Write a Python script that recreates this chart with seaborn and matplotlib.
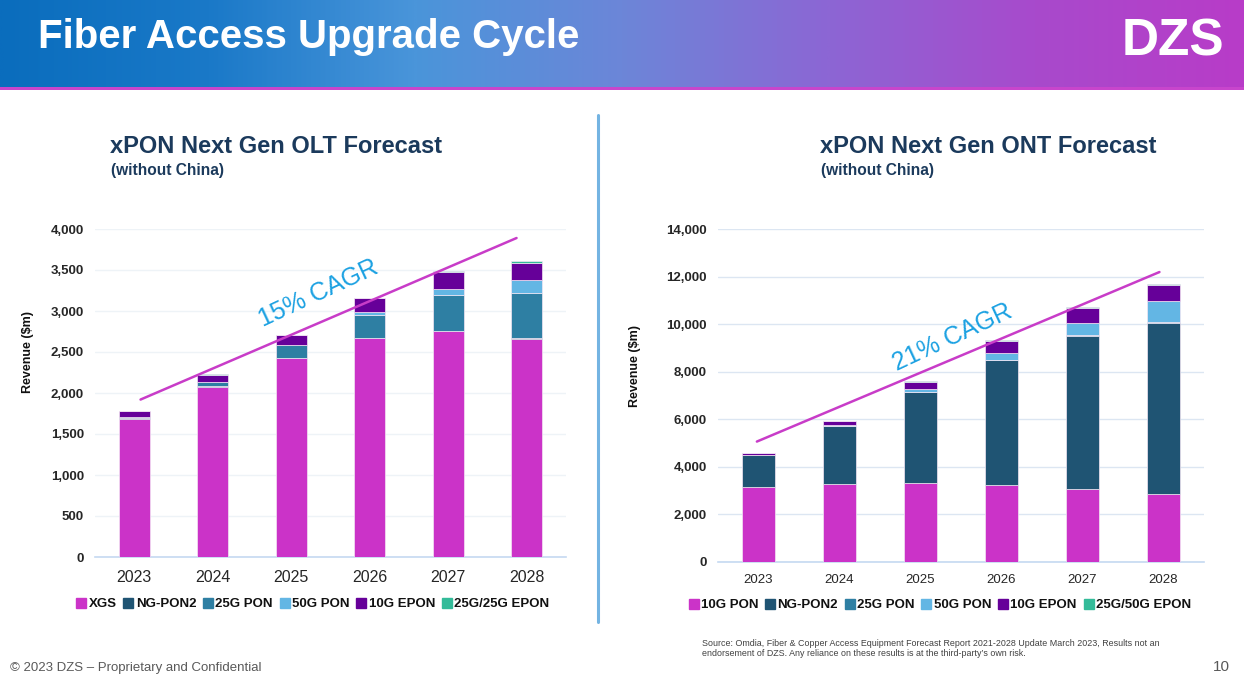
import numpy as np
import matplotlib
matplotlib.use("Agg")
import matplotlib.pyplot as plt
from matplotlib.lines import Line2D
from matplotlib.colors import LinearSegmentedColormap
import seaborn as sns

# ---------------- data ----------------
years = ["2023", "2024", "2025", "2026", "2027", "2028"]

olt_series = ["XGS", "NG-PON2", "25G PON", "50G PON", "10G EPON", "25G/25G EPON"]
olt_xgs = [1685, 2075, 2425, 2670, 2755, 2660]
olt_ngpon2 = [5, 5, 5, 5, 5, 5]
olt_25g = [15, 60, 150, 275, 435, 560]
olt_50g = [0, 0, 5, 33, 75, 150]
olt_10gepon = [70, 85, 120, 175, 210, 215]
olt_25gepon = [2, 3, 3, 5, 10, 15]
olt_values = [olt_xgs, olt_ngpon2, olt_25g, olt_50g, olt_10gepon, olt_25gepon]

ont_series = ["10G PON", "NG-PON2", "25G PON", "50G PON", "10G EPON", "25G/50G EPON"]
ont_10gpon = [3150, 3270, 3315, 3215, 3050, 2835]
ont_ngpon2 = [1330, 2450, 3840, 5290, 6470, 7230]
ont_25g = [10, 10, 10, 10, 10, 10]
ont_50g = [15, 20, 100, 280, 530, 885]
ont_10gepon = [60, 170, 320, 520, 645, 700]
ont_25gepon = [3, 5, 5, 8, 10, 25]
ont_values = [ont_10gpon, ont_ngpon2, ont_25g, ont_50g, ont_10gepon, ont_25gepon]

# CAGR trend lines (x in category index units, y in $m)
olt_cagr_x = [0.08, 4.87]
olt_cagr_y = [1920, 3890]
ont_cagr_x = [-0.02, 4.95]
ont_cagr_y = [5060, 12200]
olt_cagr_label = "15% CAGR"
ont_cagr_label = "21% CAGR"

olt_yticks = list(range(0, 4001, 500))
ont_yticks = list(range(0, 14001, 2000))

# ---------------- style ----------------
colors = ["#CB33C8", "#1F5473", "#2E7FA3", "#63B6E4", "#660099", "#33BB99"]
navy = "#1B3A5C"
W, H = 1244, 683

sns.set_theme(style="white")
plt.rcParams["font.family"] = ["Liberation Sans", "DejaVu Sans"]

fig = plt.figure(figsize=(W / 100, H / 100), dpi=100)
fig.patch.set_facecolor("white")


def fx(px):
    return px / W


def fy(py):
    return 1 - py / H


# header gradient
hax = fig.add_axes([0, fy(87), 1, 87 / H])
cmap = LinearSegmentedColormap.from_list(
    "hdr", ["#0A6DBD", "#1A79C8", "#4A95DA", "#6C86D8", "#8C66D4", "#A84ACC", "#B83CC8"])
grad = np.linspace(0, 1, 512).reshape(1, -1)
hax.imshow(grad, aspect="auto", cmap=cmap, extent=[0, 1, 0, 1])
hax.set_axis_off()
sax = fig.add_axes([0, fy(90), 1, 3 / H])
sax.set_facecolor("#C845CC")
sax.set_xticks([]); sax.set_yticks([])
for s in sax.spines.values():
    s.set_visible(False)

fig.text(fx(38), fy(48), "Fiber Access Upgrade Cycle", color="white",
         fontsize=29, fontweight="bold", va="baseline", ha="left")
fig.text(fx(1173), fy(55), "DZS", color="white", fontsize=37, fontweight="bold",
         va="baseline", ha="center")

# separator
fig.add_artist(Line2D([fx(598), fx(598)], [fy(115), fy(622)], color="#74B4E2",
                      linewidth=2.2, transform=fig.transFigure))


def draw_chart(rect, values, series, yticks, ymax, cagr_x, cagr_y, cagr_label,
               label_xy, grid_color, xtick_size, ylabel_xy):
    ax = fig.add_axes(rect)
    bottom = np.zeros(len(years))
    for vals, col in zip(values, colors):
        sns.barplot(x=years, y=vals, bottom=bottom, color=col, width=0.4,
                    saturation=1, errorbar=None, ax=ax, edgecolor="#F3E6F3",
                    linewidth=0.5, zorder=3)
        bottom = bottom + np.array(vals, dtype=float)
    ax.plot(cagr_x, cagr_y, color="#C83CC8", linewidth=1.8, zorder=5)
    ax.text(label_xy[0], label_xy[1], cagr_label, color="#1BA1E2", fontsize=18,
            rotation=25, rotation_mode="anchor", ha="center", va="center", zorder=6)
    ax.set_xlim(-0.5, 5.5)
    ax.set_ylim(0, ymax)
    ax.set_yticks(yticks)
    ax.set_yticklabels([f"{v:,}" for v in yticks], fontweight="bold", fontsize=9.5)
    ax.set_xticks(range(len(years)))
    ax.set_xticklabels(years, fontsize=xtick_size)
    ax.tick_params(axis="both", length=0)
    ax.tick_params(axis="y", pad=8)
    ax.tick_params(axis="x", pad=9)
    ax.set_xlabel(""); ax.set_ylabel("")
    ax.yaxis.grid(True, color=grid_color, linewidth=1, zorder=0)
    ax.set_axisbelow(True)
    for side in ["left", "right", "top"]:
        ax.spines[side].set_visible(False)
    ax.spines["bottom"].set_color("#C5D9F1")
    ax.spines["bottom"].set_linewidth(1.2)
    ax.set_facecolor("white")
    fig.text(fx(ylabel_xy[0]), fy(ylabel_xy[1]), "Revenue ($m)", rotation=90,
             fontsize=9, fontweight="bold", color="#111111", ha="center", va="center")
    return ax


ax1 = draw_chart([fx(95), fy(557), fx(566) - fx(95), fy(229) - fy(557)],
                 olt_values, olt_series, olt_yticks, 4000,
                 olt_cagr_x, olt_cagr_y, olt_cagr_label, (2.35, 3220),
                 "#EEF3F7", 11.5, (28, 352))
ax2 = draw_chart([fx(718), fy(561.7), fx(1204) - fx(718), fy(229.3) - fy(561.7)],
                 ont_values, ont_series, ont_yticks, 14000,
                 ont_cagr_x, ont_cagr_y, ont_cagr_label, (2.39, 9460),
                 "#DCE6F2", 9.5, (635, 366))

# chart titles
fig.text(fx(110), fy(153), "xPON Next Gen OLT Forecast", color=navy, fontsize=17,
         fontweight="bold", va="baseline")
fig.text(fx(111), fy(170), "(without China)", color=navy, fontsize=11.2,
         fontweight="bold", va="center")
fig.text(fx(820), fy(153), "xPON Next Gen ONT Forecast", color=navy, fontsize=17,
         fontweight="bold", va="baseline")
fig.text(fx(821), fy(170), "(without China)", color=navy, fontsize=11.2,
         fontweight="bold", va="center")


def make_legend(series, center):
    handles = [Line2D([], [], marker="s", linestyle="none", markersize=7,
                      markerfacecolor=c, markeredgecolor=c) for c in colors]
    leg = fig.legend(handles, series, loc="center", bbox_to_anchor=(fx(center[0]), fy(center[1])),
                     ncol=len(series), frameon=False, handlelength=0.7, handletextpad=0.2,
                     columnspacing=0.55, prop={"weight": "bold", "size": 9.5},
                     borderaxespad=0, borderpad=0)
    for t in leg.get_texts():
        t.set_color("#111111")
    return leg


make_legend(olt_series, (313, 604))
make_legend(ont_series, (940, 605))

# footer
fig.text(fx(10), fy(668), "\u00a9 2023 DZS \u2013 Proprietary and Confidential",
         color="#595959", fontsize=9.5, va="center")
fig.text(fx(1230), fy(667), "10", color="#595959", fontsize=11, va="center", ha="right")
fig.text(fx(702), fy(643),
         "Source: Omdia, Fiber & Copper Access Equipment Forecast Report 2021-2028 Update March 2023, Results not an",
         color="#404040", fontsize=6.4, va="center")
fig.text(fx(702), fy(654),
         "endorsement of DZS. Any reliance on these results is at the third-party\u2019s own risk.",
         color="#404040", fontsize=6.4, va="center")

fig.savefig("out.png", dpi=100, facecolor="white")
